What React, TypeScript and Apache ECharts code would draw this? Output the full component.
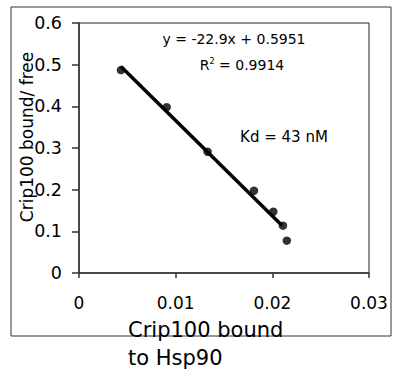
import React, { useEffect, useRef } from "react";
import * as echarts from "echarts";

const pointsX = [0.00434, 0.00907, 0.0133, 0.0181, 0.0201, 0.0211, 0.0215];
const pointsY = [0.487, 0.398, 0.291, 0.1975, 0.147, 0.1136, 0.0776];
const fitX = [0.00434, 0.021];
const fitY = [0.4957, 0.1142];
const xTicks = [0, 0.01, 0.02, 0.03];
const yTicks = [0, 0.1, 0.2, 0.3, 0.4, 0.5, 0.6];
const equationText = "y = -22.9x + 0.5951";
const r2Value = "0.9914";
const kdText = "Kd = 43 nM";
const xTitle = "Crip100 bound\nto Hsp90";
const yTitle = "Crip100 bound/ free";

const FONT = "DejaVu Sans";

export default function App() {
  const ref = useRef<HTMLDivElement>(null);
  useEffect(() => {
    if (!ref.current) return;
    const chart = echarts.init(ref.current, null, { renderer: "svg" });
    chart.setOption({
      animation: false,
      backgroundColor: "#ffffff",
      textStyle: { fontFamily: FONT, color: "#000" },
      grid: {
        left: 79,
        right: 25,
        top: 23,
        bottom: 103,
        show: true,
        borderColor: "#222",
        borderWidth: 1,
        backgroundColor: "transparent",
      },
      xAxis: {
        type: "value",
        min: xTicks[0],
        max: xTicks[xTicks.length - 1],
        interval: 0.01,
        splitLine: { show: false },
        axisLine: { show: true, onZero: false, lineStyle: { color: "#333", width: 1.5 } },
        axisTick: { show: true, inside: false, length: 5, lineStyle: { color: "#333", width: 1.5 } },
        axisLabel: {
          margin: 21,
          fontSize: 17,
          fontFamily: FONT,
          color: "#000",
          formatter: (v: number) => String(parseFloat(v.toFixed(2))),
        },
      },
      yAxis: {
        type: "value",
        min: yTicks[0],
        max: yTicks[yTicks.length - 1],
        interval: 0.1,
        splitLine: { show: false },
        axisLine: { show: true, onZero: false, lineStyle: { color: "#333", width: 1.5 } },
        axisTick: { show: true, inside: false, length: 7, lineStyle: { color: "#333", width: 1.5 } },
        axisLabel: {
          margin: 17,
          fontSize: 17.5,
          fontFamily: FONT,
          color: "#000",
          formatter: (v: number) => String(parseFloat(v.toFixed(1))),
        },
      },
      series: [
        {
          type: "line",
          data: fitX.map((x, i) => [x, fitY[i]]),
          showSymbol: false,
          symbol: "none",
          lineStyle: { color: "#000", width: 3.5 },
          z: 2,
        },
        {
          type: "scatter",
          data: pointsX.map((x, i) => [x, pointsY[i]]),
          symbol: "circle",
          symbolSize: 8.5,
          itemStyle: { color: "#000" },
          z: 3,
        },
      ],
      graphic: [
        {
          type: "rect",
          shape: { x: 11, y: 7, width: 380, height: 329 },
          style: { fill: "none", stroke: "#333", lineWidth: 1 },
          silent: true,
        },
        {
          type: "text",
          x: 234,
          y: 39,
          style: {
            text: equationText,
            font: `14px "${FONT}"`,
            fill: "#000",
            align: "center",
            verticalAlign: "middle",
          },
        },
        {
          type: "text",
          x: 242,
          y: 65,
          style: {
            text: "R{sup|2} = " + r2Value,
            font: `14px "${FONT}"`,
            fill: "#000",
            align: "center",
            verticalAlign: "middle",
            rich: {
              sup: { fontSize: 8, fontFamily: FONT, verticalAlign: "top", padding: [0, 0, 8, 0] },
            },
          },
        },
        {
          type: "text",
          x: 284,
          y: 137,
          style: {
            text: kdText,
            font: `15px "${FONT}"`,
            fill: "#000",
            align: "center",
            verticalAlign: "middle",
          },
        },
        {
          type: "text",
          x: 128,
          y: 316,
          style: {
            text: xTitle,
            font: `21px "${FONT}"`,
            lineHeight: 28,
            fill: "#000",
            align: "left",
            verticalAlign: "top",
          },
        },
        {
          type: "text",
          x: 27,
          y: 137,
          rotation: Math.PI / 2,
          style: {
            text: yTitle,
            font: `17px "${FONT}"`,
            fill: "#000",
            align: "center",
            verticalAlign: "middle",
          },
        },
      ],
    });
    return () => chart.dispose();
  }, []);
  return (
    <div
      ref={ref}
      style={{ position: "absolute", left: 0, top: 0, width: 394, height: 376 }}
    />
  );
}
